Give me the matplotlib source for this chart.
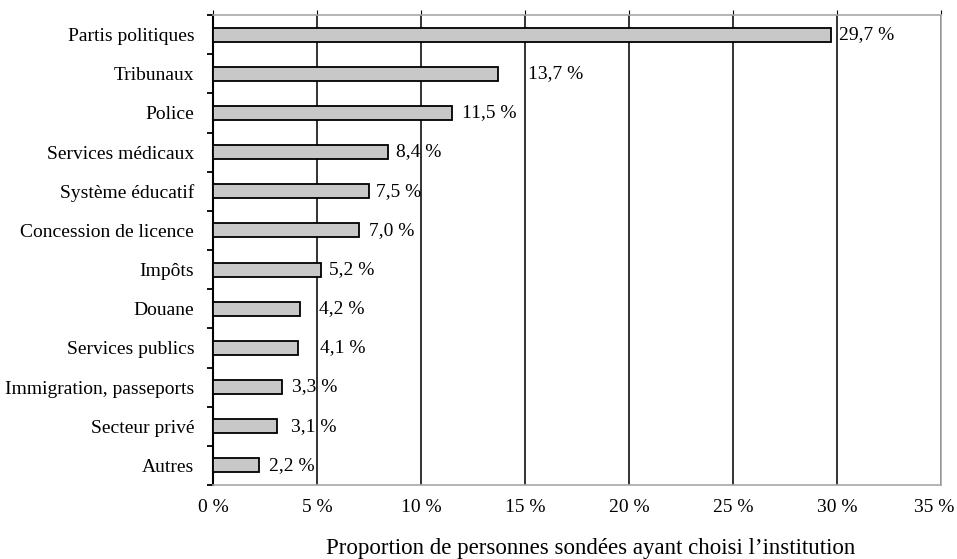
import matplotlib
matplotlib.use("Agg")
import matplotlib.pyplot as plt
import matplotlib.transforms as mtransforms
import numpy as np
from matplotlib.ticker import FixedLocator

categories = ["Partis politiques", "Tribunaux", "Police", "Services médicaux",
              "Système éducatif", "Concession de licence", "Impôts", "Douane",
              "Services publics", "Immigration, passeports", "Secteur privé", "Autres"]
values = [29.7, 13.7, 11.5, 8.4, 7.5, 7.0, 5.2, 4.2, 4.1, 3.3, 3.1, 2.2]
value_labels = ["29,7 %", "13,7 %", "11,5 %", "8,4 %", "7,5 %", "7,0 %",
                "5,2 %", "4,2 %", "4,1 %", "3,3 %", "3,1 %", "2,2 %"]
x_ticks = [0, 5, 10, 15, 20, 25, 30, 35]
x_tick_labels = ["0 %", "5 %", "10 %", "15 %", "20 %", "25 %", "30 %", "35 %"]
xlabel = "Proportion de personnes sondées ayant choisi l\u2019institution"

# gap (in pixels) between bar end and its label, as drawn in the original
label_gaps_px = [8, 30, 10, 8, 7, 10, 8, 19, 22, 10, 14, 10]

plt.rcParams['font.family'] = ['Liberation Serif', 'DejaVu Serif']

W, H = 957, 559
fig = plt.figure(figsize=(W / 100, H / 100), dpi=100)
ax = fig.add_axes([213 / W, 1 - 485 / H, (941 - 213) / W, (485 - 15) / H])

y = np.arange(len(categories))
ax.barh(y, values, height=0.36, color="#c8c8c8", edgecolor="black",
        linewidth=1.3, zorder=3)

ax.set_xlim(0, 35)
ax.set_ylim(len(categories) - 0.5, -0.5)

fs = 14
ax.set_xticks(x_ticks)
ax.set_xticklabels(x_tick_labels, fontsize=fs)
ax.set_yticks(y)
ax.set_yticklabels(categories, fontsize=fs)

ax.xaxis.grid(True, color="#222222", linewidth=1.3, zorder=0)
ax.set_axisbelow(True)

ax.tick_params(axis="x", which="major", length=0, pad=10)
ax.tick_params(axis="x", which="major", top=True, labeltop=False)
for t in ax.xaxis.get_major_ticks():
    t.tick2line.set_color("#a0a0a0")
    t.tick2line.set_markersize(3.5)

ax.tick_params(axis="y", which="major", length=0, pad=13.5)
ax.yaxis.set_minor_locator(FixedLocator(np.arange(-0.5, len(categories), 1.0)))
ax.tick_params(axis="y", which="minor", length=4, width=1.3, color="black",
               direction="out")

# last tick label sits slightly left of its gridline in the original
last = ax.xaxis.get_major_ticks()[-1].label1
last.set_transform(last.get_transform() +
                   mtransforms.ScaledTranslation(-7 / 100, 0, fig.dpi_scale_trans))

for side in ["top", "right", "bottom"]:
    ax.spines[side].set_color("#a8a8a8")
    ax.spines[side].set_linewidth(1.2)
ax.spines["left"].set_color("black")
ax.spines["left"].set_linewidth(1.5)

for yi, v, lab, gap in zip(y, values, value_labels, label_gaps_px):
    ax.annotate(lab, xy=(v, yi), xytext=(gap * 0.72, 0),
                textcoords="offset points", ha="left", va="center",
                fontsize=fs, zorder=4)

ax.set_xlabel(xlabel, fontsize=16.5)
ax.xaxis.set_label_coords((591 - 213) / 728, (485 - 538) / 470)

fig.savefig("out.png", dpi=100)
